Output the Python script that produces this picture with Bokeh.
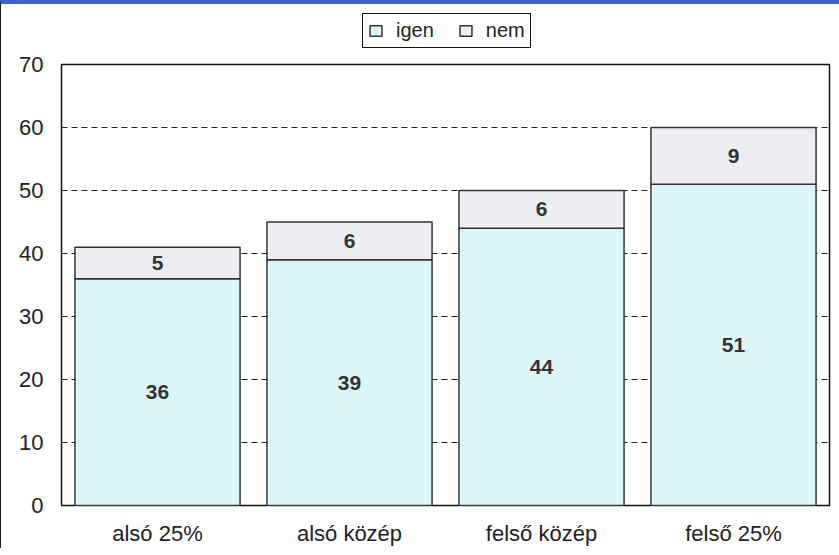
from bokeh.plotting import figure
from bokeh.layouts import column
from bokeh.models import ColumnDataSource, Legend, LegendItem, FactorRange, SingleIntervalTicker
from bokeh.embed import file_html
from bokeh.resources import INLINE
from bokeh.core.properties import value

categories = ["alsó 25%", "alsó közép", "felső közép", "felső 25%"]
igen = [36, 39, 44, 51]
nem = [5, 6, 6, 9]
series_names = ["igen", "nem"]
y_ticks = [0, 10, 20, 30, 40, 50, 60, 70]

FONT = "Liberation Sans"
IGEN_C = "#dcf6f8"
NEM_C = "#eceef3"
EDGE = "#333333"

src = ColumnDataSource(dict(
    cat=categories,
    igen=igen,
    nem=nem,
    total=[a + b for a, b in zip(igen, nem)],
    igen_mid=[a / 2 for a in igen],
    nem_mid=[a + b / 2 for a, b in zip(igen, nem)],
    igen_lbl=[str(v) for v in igen],
    nem_lbl=[str(v) for v in nem],
))

# ---- main chart ----
p = figure(x_range=FactorRange(*categories, range_padding=0), y_range=(0, 70),
           frame_width=768, frame_height=441,
           output_backend="svg", toolbar_location=None,
           min_border_left=60, min_border_right=10, min_border_top=14, min_border_bottom=42)

p.outline_line_color = "#111"
p.outline_line_width = 1.5
p.xgrid.grid_line_color = None
p.ygrid.grid_line_color = "#222"
p.ygrid.grid_line_dash = "6 4"
p.ygrid.grid_line_width = 1.2
p.ygrid.ticker = SingleIntervalTicker(interval=10)

p.vbar(x="cat", bottom=0, top="igen", width=0.86, source=src,
       fill_color=IGEN_C, line_color=EDGE, line_width=1.5)
p.vbar(x="cat", bottom="igen", top="total", width=0.86, source=src,
       fill_color=NEM_C, line_color=EDGE, line_width=1.5)

p.text(x="cat", y="igen_mid", text="igen_lbl", source=src, text_align="center",
       text_baseline="middle", text_font=value(FONT), text_font_style="bold",
       text_font_size="21px", text_color="#333")
p.text(x="cat", y="nem_mid", text="nem_lbl", source=src, text_align="center",
       text_baseline="middle", text_font=value(FONT), text_font_style="bold",
       text_font_size="21px", text_color="#333")

p.yaxis.ticker = y_ticks
p.yaxis.axis_line_color = None
p.yaxis.major_tick_line_color = None
p.yaxis.minor_tick_line_color = None
p.yaxis.major_label_text_font = FONT
p.yaxis.major_label_text_font_size = "22px"
p.yaxis.major_label_text_color = "#222"
p.yaxis.major_label_standoff = 12

p.xaxis.axis_line_color = None
p.xaxis.major_tick_line_color = None
p.xaxis.major_label_text_font = FONT
p.xaxis.major_label_text_font_size = "22px"
p.xaxis.major_label_text_color = "#222"
p.xaxis.major_label_standoff = 9

# ---- legend strip above (hidden copies of the bars; only their legend shows) ----
lf = figure(x_range=FactorRange(*categories), y_range=(0, 70),
            frame_width=838, frame_height=46, output_backend="svg", toolbar_location=None,
            x_axis_location=None, y_axis_location=None,
            min_border_left=0, min_border_right=0, min_border_top=0, min_border_bottom=0)
lf.outline_line_color = None
lf.grid.grid_line_color = None
d1 = lf.vbar(x="cat", bottom=0, top="igen", width=0.86, source=src,
             fill_color=IGEN_C, line_color=EDGE, line_width=1.5, visible=False)
d2 = lf.vbar(x="cat", bottom="igen", top="total", width=0.86, source=src,
             fill_color=NEM_C, line_color=EDGE, line_width=1.5, visible=False)
legend = Legend(items=[LegendItem(label=series_names[0], renderers=[d1], index=0),
                       LegendItem(label=series_names[1], renderers=[d2], index=0)],
                orientation="horizontal", location=(361, 2),
                border_line_color="#111", border_line_width=1.5, border_line_alpha=1,
                label_text_font=FONT, label_text_font_size="20px",
                label_text_color="#222", glyph_width=15, glyph_height=13,
                spacing=24, padding=5, margin=0, label_standoff=13,
                label_height=10, background_fill_alpha=1,
                inactive_fill_alpha=0)
lf.add_layout(legend, "center")

layout = column(lf, p, spacing=0)
layout.styles = {"border-top": "4px solid #3d63c4", "border-left": "1px solid #222"}

open("out.html", "w").write(file_html(layout, INLINE))
